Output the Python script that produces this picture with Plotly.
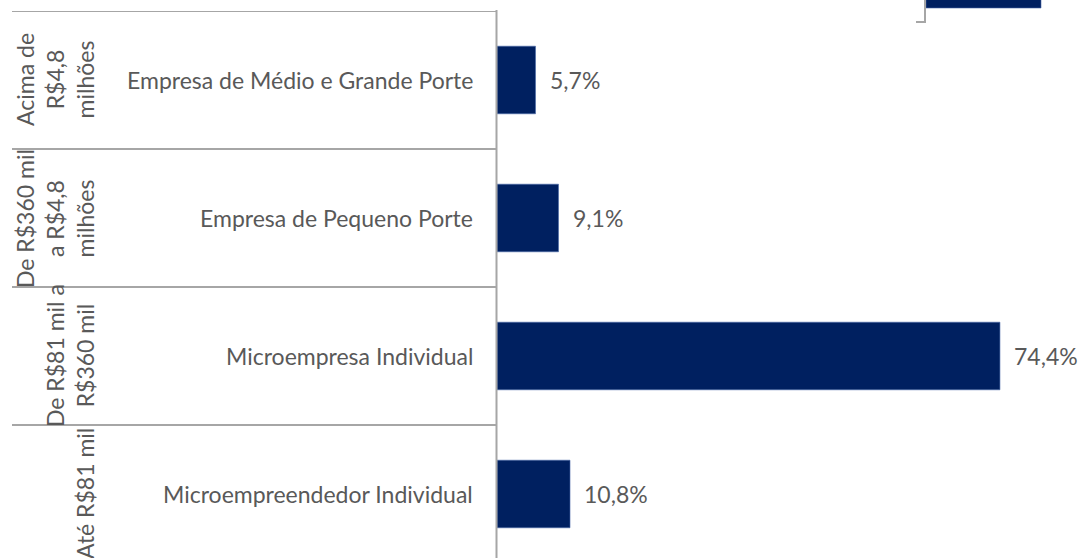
import plotly.graph_objects as go

# ---- data ----
categories = [
    "Microempreendedor Individual",
    "Microempresa Individual",
    "Empresa de Pequeno Porte",
    "Empresa de Médio e Grande Porte",
]
group_labels = [
    "Até R$81 mil",
    "De R$81 mil a<br>R$360 mil",
    "De R$360 mil<br>a R$4,8<br>milhões",
    "Acima de<br>R$4,8<br>milhões",
]
values = [10.8, 74.4, 9.1, 5.7]

NAVY = "#002060"
GREY_TXT = "#595959"
GREY_LN = "#A6A6A6"
FONT = "Lato"
FS = 23

W, H = 1079, 558
L, R, T, B = 497, 0, 11, 0
PW, PH = W - L - R, H - T - B


def px_x(p):
    return (p - L) / PW


def px_y(p):
    return (H - B - p) / PH


fig = go.Figure()
fig.add_trace(go.Bar(
    y=categories, x=values, orientation="h",
    marker=dict(color=NAVY, line=dict(color="#4a6aa8", width=0.6)),
    width=0.49, hoverinfo="skip",
))

annotations = []
for c, v in zip(categories, values):
    annotations.append(dict(
        x=v, y=c, xref="x", yref="y", xanchor="left", yanchor="middle",
        xshift=12, showarrow=False,
        text=f"{v:.1f}".replace(".", ",") + "%",
        font=dict(family=FONT, size=FS, color=GREY_TXT),
    ))
    annotations.append(dict(
        x=px_x(475), y=c, xref="paper", yref="y", xanchor="right",
        yanchor="middle", showarrow=False, text=c,
        font=dict(family=FONT, size=FS, color=GREY_TXT),
    ))
for c, g in zip(categories, group_labels):
    annotations.append(dict(
        x=px_x(101), y=c, xref="paper", yref="y", xanchor="right",
        yanchor="middle", showarrow=False, text=g, textangle=-90,
        align="center",
        font=dict(family=FONT, size=FS, color=GREY_TXT),
    ))

shapes = []
for i in range(len(categories)):
    shapes.append(dict(
        type="line", xref="paper", yref="y",
        x0=px_x(12), x1=0, y0=i + 0.5, y1=i + 0.5,
        line=dict(color=GREY_LN, width=2),
    ))
# vertical axis line
shapes.append(dict(type="line", xref="paper", yref="paper",
                   x0=px_x(496.5), x1=px_x(496.5), y0=px_y(H + 2), y1=px_y(10),
                   line=dict(color=GREY_LN, width=2)))
# cropped piece at top-right
shapes.append(dict(type="rect", xref="paper", yref="paper",
                   x0=px_x(926), x1=px_x(1041), y0=px_y(8), y1=px_y(-5),
                   fillcolor=NAVY, line=dict(color="#4a6aa8", width=0.6)))
shapes.append(dict(type="path", xref="paper", yref="paper",
                   path=f"M {px_x(925)} {px_y(-2)} L {px_x(925)} {px_y(22)} L {px_x(916)} {px_y(22)}",
                   line=dict(color=GREY_LN, width=2)))

fig.update_layout(
    width=W, height=H,
    margin=dict(l=L, r=R, t=T, b=B, pad=0),
    paper_bgcolor="white", plot_bgcolor="white",
    showlegend=False,
    xaxis=dict(range=[0, PW / 6.76], visible=False, fixedrange=True),
    yaxis=dict(type="category", categoryorder="array", categoryarray=categories,
               range=[3.5 - PH / 138.0, 3.5], showticklabels=False,
               showgrid=False, zeroline=False, showline=False, ticks=""),
    annotations=annotations,
    shapes=shapes,
)

fig.write_html(
    "out.html",
    config={"displayModeBar": False},
    post_script="document.body.style.margin='0';document.body.style.overflow='hidden';",
)
